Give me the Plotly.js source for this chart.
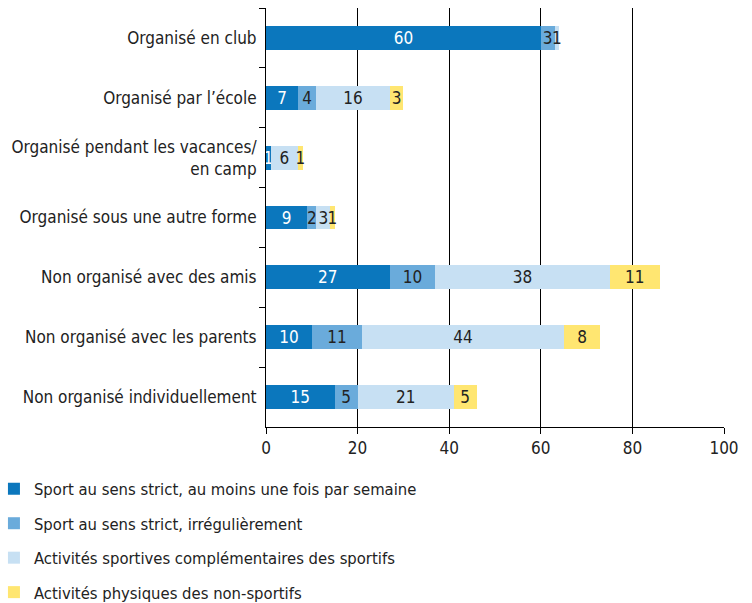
<!DOCTYPE html>
<html>
<head>
<meta charset="utf-8">
<script src="https://cdn.plot.ly/plotly-3.0.1.min.js"></script>
<style>html,body{margin:0;padding:0;background:#fff;}#chart{width:752px;height:603px;}</style>
</head>
<body>
<div id="chart"></div>
<script>
var categories = [
  "Organisé en club",
  "Organisé par l’école",
  "Organisé pendant les vacances/<br>en camp",
  "Organisé sous une autre forme",
  "Non organisé avec des amis",
  "Non organisé avec les parents",
  "Non organisé individuellement"
];
var seriesNames = [
  "Sport au sens strict, au moins une fois par semaine",
  "Sport au sens strict, irrégulièrement",
  "Activités sportives complémentaires des sportifs",
  "Activités physiques des non-sportifs"
];
var weekly      = [60, 7, 1, 9, 27, 10, 15];
var irregular   = [3, 4, 0, 2, 10, 11, 5];
var complement  = [1, 16, 6, 3, 38, 44, 21];
var nonSportifs = [0, 3, 1, 1, 11, 8, 5];
var colors = ["#0b77bd", "#6aabdb", "#c7e0f3", "#ffe671"];
var textColors = ["#ffffff", "#222222", "#222222", "#222222"];
var xTicks = [0, 20, 40, 60, 80, 100];

var FONT = "DejaVu Sans Condensed, Roboto, sans-serif";
var allSeries = [weekly, irregular, complement, nonSportifs];
var traces = allSeries.map(function (vals, i) {
  return {
    type: "bar",
    orientation: "h",
    name: seriesNames[i],
    legendgroup: "g" + i,
    y: categories,
    x: vals,
    text: vals.map(function (v) { return v > 0 ? String(v) : ""; }),
    textposition: "inside",
    insidetextanchor: "middle",
    textangle: 0,
    constraintext: "none",
    textfont: {family: FONT, size: 17, color: textColors[i]},
    marker: {color: colors[i], line: {width: 0}},
    hoverinfo: "x+name"
  };
});

var layout = {
  width: 752,
  height: 603,
  barmode: "stack",
  bargap: 0.6,
  paper_bgcolor: "#ffffff",
  plot_bgcolor: "#ffffff",
  font: {family: FONT, size: 17, color: "#222222"},
  margin: {l: 266, r: 28, t: 8, b: 176, pad: 0, autoexpand: false},
  showlegend: true,
  legend: {
    orientation: "v",
    xref: "paper", yref: "container",
    x: -0.594, y: 0.218, xanchor: "left", yanchor: "top",
    font: {family: FONT, size: 16.5, color: "#222222"},
    traceorder: "grouped",
    itemwidth: 30,
    tracegroupgap: 10
  },
  xaxis: {
    range: [0, 100],
    tickvals: xTicks,
    ticktext: xTicks.map(String),
    showgrid: true,
    gridcolor: "#000000",
    gridwidth: 1,
    zeroline: false,
    showline: true,
    linecolor: "#000000",
    linewidth: 1,
    ticks: "outside",
    ticklen: 6,
    tickcolor: "#000000",
    tickfont: {family: FONT, size: 17, color: "#222222"},
    automargin: false,
    fixedrange: true
  },
  yaxis: {
    type: "category",
    autorange: "reversed",
    showgrid: false,
    zeroline: false,
    showline: true,
    linecolor: "#000000",
    linewidth: 1,
    ticks: "outside",
    tickson: "boundaries",
    ticklen: 6,
    tickcolor: "#000000",
    ticklabelstandoff: 5,
    tickfont: {family: FONT, size: 17, color: "#222222"},
    automargin: false,
    fixedrange: true
  }
};

Plotly.newPlot("chart", traces, layout, {displayModeBar: false, staticPlot: true});
</script>
</body>
</html>
